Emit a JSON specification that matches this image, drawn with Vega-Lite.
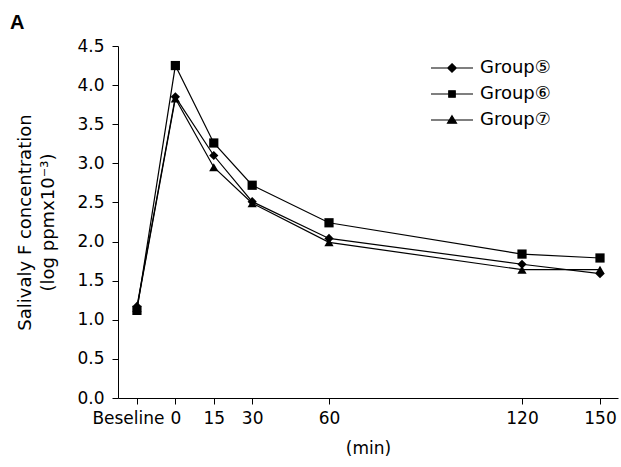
{
  "$schema": "https://vega.github.io/schema/vega-lite/v6.json",
  "width": 500,
  "height": 352,
  "autosize": "none",
  "padding": {"left": 118, "top": 46, "right": 3, "bottom": 69},
  "background": "white",
  "title": {"text": "A", "anchor": "start", "frame": "group", "dx": -108, "offset": 4, "fontSize": 20, "fontWeight": "bold", "font": "Liberation Sans", "color": "black"},
  "config": {
    "font": "DejaVu Sans",
    "view": {"stroke": null},
    "axis": {"grid": false, "domainColor": "black", "tickColor": "black", "labelColor": "black", "titleColor": "black", "labelFont": "DejaVu Sans", "titleFont": "DejaVu Sans", "labelFontSize": 17, "titleFontSize": 17, "titleFontWeight": "normal", "domainWidth": 1, "tickWidth": 1}
  },
  "data": {"values": [
    {"time": -15, "group": "Group⑤", "value": 1.17},
    {"time": 0, "group": "Group⑤", "value": 3.85},
    {"time": 15, "group": "Group⑤", "value": 3.10},
    {"time": 30, "group": "Group⑤", "value": 2.51},
    {"time": 60, "group": "Group⑤", "value": 2.04},
    {"time": 120, "group": "Group⑤", "value": 1.71},
    {"time": 150, "group": "Group⑤", "value": 1.59},
    {"time": -15, "group": "Group⑥", "value": 1.12},
    {"time": 0, "group": "Group⑥", "value": 4.25},
    {"time": 15, "group": "Group⑥", "value": 3.26},
    {"time": 30, "group": "Group⑥", "value": 2.72},
    {"time": 60, "group": "Group⑥", "value": 2.24},
    {"time": 120, "group": "Group⑥", "value": 1.84},
    {"time": 150, "group": "Group⑥", "value": 1.79},
    {"time": -15, "group": "Group⑦", "value": 1.15},
    {"time": 0, "group": "Group⑦", "value": 3.83},
    {"time": 15, "group": "Group⑦", "value": 2.95},
    {"time": 30, "group": "Group⑦", "value": 2.49},
    {"time": 60, "group": "Group⑦", "value": 1.99},
    {"time": 120, "group": "Group⑦", "value": 1.64},
    {"time": 150, "group": "Group⑦", "value": 1.64}
  ]},
  "encoding": {
    "x": {
      "field": "time", "type": "quantitative",
      "scale": {"domain": [-22.4, 60, 120, 150, 156.8], "range": [0, 211, 404, 482, 500], "nice": false, "zero": false},
      "axis": {
        "values": [-15, 0, 15, 30, 60, 120, 150],
        "labelExpr": "datum.value === -15 ? 'Beseline' : datum.label",
        "labelOffset": {"expr": "datum.value === -15 ? -9 : 0"},
        "tickSize": 6, "labelPadding": 6, "title": "(min)", "titlePadding": 14, "labelFlush": false, "labelOverlap": false
      }
    },
    "y": {
      "field": "value", "type": "quantitative",
      "scale": {"domain": [0, 4.5], "nice": false},
      "axis": {
        "values": [0, 0.5, 1, 1.5, 2, 2.5, 3, 3.5, 4, 4.5],
        "format": ".1f", "tickSize": 6, "labelPadding": 8,
        "title": ["Salivaly F concentration", "(log ppmx10⁻³)"],
        "titleFontSize": 18, "titleLineHeight": 23, "titlePadding": 19
      }
    }
  },
  "layer": [
    {
      "mark": {"type": "line", "strokeWidth": 1.2},
      "encoding": {
        "stroke": {
          "field": "group", "type": "nominal",
          "scale": {"range": ["black", "black", "black"]},
          "legend": {
            "title": null, "orient": "none", "legendX": 325, "legendY": 13,
            "padding": 0, "symbolSize": 100, "symbolStrokeWidth": 1.2,
            "labelFont": "DejaVu Sans", "labelFontSize": 18, "labelColor": "black",
            "labelOffset": 19, "rowPadding": 8,
            "encode": {
              "symbols": {
                "update": {
                  "shape": {"signal": "datum.index === 0 ? 'M-4.2,0L4.2,0M0,-0.85L0.85,0L0,0.85L-0.85,0Z' : datum.index === 1 ? 'M-4.2,0L4.2,0M-0.65,-0.65L0.65,-0.65L0.65,0.65L-0.65,0.65Z' : 'M-4.2,0L4.2,0M0,-0.85L0.9,0.65L-0.9,0.65Z'"},
                  "fill": {"value": "black"},
                  "stroke": {"value": "black"},
                  "strokeWidth": {"value": 1.2}
                }
              }
            }
          }
        }
      }
    },
    {
      "mark": {"type": "point", "filled": true, "opacity": 1, "color": "black"},
      "encoding": {
        "shape": {
          "field": "group", "type": "nominal",
          "scale": {"range": ["diamond", "square", "triangle-up"]},
          "legend": null
        },
        "size": {"value": 85}
      }
    }
  ]
}
